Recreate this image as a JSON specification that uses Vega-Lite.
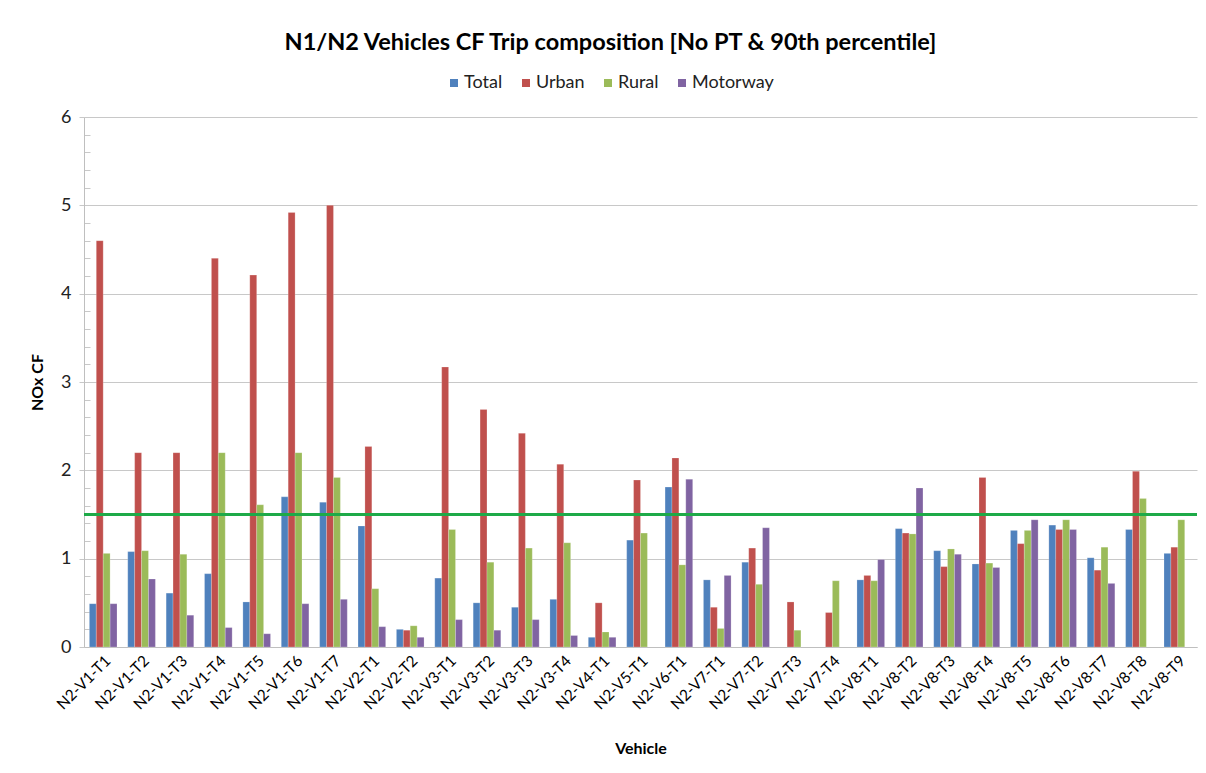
{
  "$schema": "https://vega.github.io/schema/vega-lite/v6.json",
  "width": 1113,
  "height": 530,
  "autosize": {"type": "none"},
  "padding": {"left": 84, "top": 117, "right": 9, "bottom": 126},
  "background": "white",
  "config": {
    "font": "Lato",
    "view": {"stroke": null},
    "axis": {"labelFont": "Lato", "titleFont": "Lato"},
    "legend": {"labelFont": "Lato"}
  },
  "title": {
    "text": "N1/N2 Vehicles CF Trip composition [No PT & 90th percentile]",
    "anchor": "middle",
    "frame": "group",
    "dx": -30,
    "offset": 20,
    "fontSize": 23.5,
    "fontWeight": "bold",
    "font": "Lato",
    "color": "#000000"
  },
  "data": {
    "values": [
      {"Vehicle": "N2-V1-T1", "Series": "Total", "CF": 0.49},
      {"Vehicle": "N2-V1-T1", "Series": "Urban", "CF": 4.60},
      {"Vehicle": "N2-V1-T1", "Series": "Rural", "CF": 1.06},
      {"Vehicle": "N2-V1-T1", "Series": "Motorway", "CF": 0.49},
      {"Vehicle": "N2-V1-T2", "Series": "Total", "CF": 1.08},
      {"Vehicle": "N2-V1-T2", "Series": "Urban", "CF": 2.20},
      {"Vehicle": "N2-V1-T2", "Series": "Rural", "CF": 1.09},
      {"Vehicle": "N2-V1-T2", "Series": "Motorway", "CF": 0.77},
      {"Vehicle": "N2-V1-T3", "Series": "Total", "CF": 0.61},
      {"Vehicle": "N2-V1-T3", "Series": "Urban", "CF": 2.20},
      {"Vehicle": "N2-V1-T3", "Series": "Rural", "CF": 1.05},
      {"Vehicle": "N2-V1-T3", "Series": "Motorway", "CF": 0.36},
      {"Vehicle": "N2-V1-T4", "Series": "Total", "CF": 0.83},
      {"Vehicle": "N2-V1-T4", "Series": "Urban", "CF": 4.40},
      {"Vehicle": "N2-V1-T4", "Series": "Rural", "CF": 2.20},
      {"Vehicle": "N2-V1-T4", "Series": "Motorway", "CF": 0.22},
      {"Vehicle": "N2-V1-T5", "Series": "Total", "CF": 0.51},
      {"Vehicle": "N2-V1-T5", "Series": "Urban", "CF": 4.21},
      {"Vehicle": "N2-V1-T5", "Series": "Rural", "CF": 1.61},
      {"Vehicle": "N2-V1-T5", "Series": "Motorway", "CF": 0.15},
      {"Vehicle": "N2-V1-T6", "Series": "Total", "CF": 1.70},
      {"Vehicle": "N2-V1-T6", "Series": "Urban", "CF": 4.92},
      {"Vehicle": "N2-V1-T6", "Series": "Rural", "CF": 2.20},
      {"Vehicle": "N2-V1-T6", "Series": "Motorway", "CF": 0.49},
      {"Vehicle": "N2-V1-T7", "Series": "Total", "CF": 1.64},
      {"Vehicle": "N2-V1-T7", "Series": "Urban", "CF": 5.00},
      {"Vehicle": "N2-V1-T7", "Series": "Rural", "CF": 1.92},
      {"Vehicle": "N2-V1-T7", "Series": "Motorway", "CF": 0.54},
      {"Vehicle": "N2-V2-T1", "Series": "Total", "CF": 1.37},
      {"Vehicle": "N2-V2-T1", "Series": "Urban", "CF": 2.27},
      {"Vehicle": "N2-V2-T1", "Series": "Rural", "CF": 0.66},
      {"Vehicle": "N2-V2-T1", "Series": "Motorway", "CF": 0.23},
      {"Vehicle": "N2-V2-T2", "Series": "Total", "CF": 0.20},
      {"Vehicle": "N2-V2-T2", "Series": "Urban", "CF": 0.19},
      {"Vehicle": "N2-V2-T2", "Series": "Rural", "CF": 0.24},
      {"Vehicle": "N2-V2-T2", "Series": "Motorway", "CF": 0.11},
      {"Vehicle": "N2-V3-T1", "Series": "Total", "CF": 0.78},
      {"Vehicle": "N2-V3-T1", "Series": "Urban", "CF": 3.17},
      {"Vehicle": "N2-V3-T1", "Series": "Rural", "CF": 1.33},
      {"Vehicle": "N2-V3-T1", "Series": "Motorway", "CF": 0.31},
      {"Vehicle": "N2-V3-T2", "Series": "Total", "CF": 0.50},
      {"Vehicle": "N2-V3-T2", "Series": "Urban", "CF": 2.69},
      {"Vehicle": "N2-V3-T2", "Series": "Rural", "CF": 0.96},
      {"Vehicle": "N2-V3-T2", "Series": "Motorway", "CF": 0.19},
      {"Vehicle": "N2-V3-T3", "Series": "Total", "CF": 0.45},
      {"Vehicle": "N2-V3-T3", "Series": "Urban", "CF": 2.42},
      {"Vehicle": "N2-V3-T3", "Series": "Rural", "CF": 1.12},
      {"Vehicle": "N2-V3-T3", "Series": "Motorway", "CF": 0.31},
      {"Vehicle": "N2-V3-T4", "Series": "Total", "CF": 0.54},
      {"Vehicle": "N2-V3-T4", "Series": "Urban", "CF": 2.07},
      {"Vehicle": "N2-V3-T4", "Series": "Rural", "CF": 1.18},
      {"Vehicle": "N2-V3-T4", "Series": "Motorway", "CF": 0.13},
      {"Vehicle": "N2-V4-T1", "Series": "Total", "CF": 0.11},
      {"Vehicle": "N2-V4-T1", "Series": "Urban", "CF": 0.50},
      {"Vehicle": "N2-V4-T1", "Series": "Rural", "CF": 0.17},
      {"Vehicle": "N2-V4-T1", "Series": "Motorway", "CF": 0.11},
      {"Vehicle": "N2-V5-T1", "Series": "Total", "CF": 1.21},
      {"Vehicle": "N2-V5-T1", "Series": "Urban", "CF": 1.89},
      {"Vehicle": "N2-V5-T1", "Series": "Rural", "CF": 1.29},
      {"Vehicle": "N2-V6-T1", "Series": "Total", "CF": 1.81},
      {"Vehicle": "N2-V6-T1", "Series": "Urban", "CF": 2.14},
      {"Vehicle": "N2-V6-T1", "Series": "Rural", "CF": 0.93},
      {"Vehicle": "N2-V6-T1", "Series": "Motorway", "CF": 1.90},
      {"Vehicle": "N2-V7-T1", "Series": "Total", "CF": 0.76},
      {"Vehicle": "N2-V7-T1", "Series": "Urban", "CF": 0.45},
      {"Vehicle": "N2-V7-T1", "Series": "Rural", "CF": 0.21},
      {"Vehicle": "N2-V7-T1", "Series": "Motorway", "CF": 0.81},
      {"Vehicle": "N2-V7-T2", "Series": "Total", "CF": 0.96},
      {"Vehicle": "N2-V7-T2", "Series": "Urban", "CF": 1.12},
      {"Vehicle": "N2-V7-T2", "Series": "Rural", "CF": 0.71},
      {"Vehicle": "N2-V7-T2", "Series": "Motorway", "CF": 1.35},
      {"Vehicle": "N2-V7-T3", "Series": "Urban", "CF": 0.51},
      {"Vehicle": "N2-V7-T3", "Series": "Rural", "CF": 0.19},
      {"Vehicle": "N2-V7-T4", "Series": "Urban", "CF": 0.39},
      {"Vehicle": "N2-V7-T4", "Series": "Rural", "CF": 0.75},
      {"Vehicle": "N2-V8-T1", "Series": "Total", "CF": 0.76},
      {"Vehicle": "N2-V8-T1", "Series": "Urban", "CF": 0.81},
      {"Vehicle": "N2-V8-T1", "Series": "Rural", "CF": 0.75},
      {"Vehicle": "N2-V8-T1", "Series": "Motorway", "CF": 0.99},
      {"Vehicle": "N2-V8-T2", "Series": "Total", "CF": 1.34},
      {"Vehicle": "N2-V8-T2", "Series": "Urban", "CF": 1.29},
      {"Vehicle": "N2-V8-T2", "Series": "Rural", "CF": 1.28},
      {"Vehicle": "N2-V8-T2", "Series": "Motorway", "CF": 1.80},
      {"Vehicle": "N2-V8-T3", "Series": "Total", "CF": 1.09},
      {"Vehicle": "N2-V8-T3", "Series": "Urban", "CF": 0.91},
      {"Vehicle": "N2-V8-T3", "Series": "Rural", "CF": 1.11},
      {"Vehicle": "N2-V8-T3", "Series": "Motorway", "CF": 1.05},
      {"Vehicle": "N2-V8-T4", "Series": "Total", "CF": 0.94},
      {"Vehicle": "N2-V8-T4", "Series": "Urban", "CF": 1.92},
      {"Vehicle": "N2-V8-T4", "Series": "Rural", "CF": 0.95},
      {"Vehicle": "N2-V8-T4", "Series": "Motorway", "CF": 0.90},
      {"Vehicle": "N2-V8-T5", "Series": "Total", "CF": 1.32},
      {"Vehicle": "N2-V8-T5", "Series": "Urban", "CF": 1.17},
      {"Vehicle": "N2-V8-T5", "Series": "Rural", "CF": 1.32},
      {"Vehicle": "N2-V8-T5", "Series": "Motorway", "CF": 1.44},
      {"Vehicle": "N2-V8-T6", "Series": "Total", "CF": 1.38},
      {"Vehicle": "N2-V8-T6", "Series": "Urban", "CF": 1.33},
      {"Vehicle": "N2-V8-T6", "Series": "Rural", "CF": 1.44},
      {"Vehicle": "N2-V8-T6", "Series": "Motorway", "CF": 1.33},
      {"Vehicle": "N2-V8-T7", "Series": "Total", "CF": 1.01},
      {"Vehicle": "N2-V8-T7", "Series": "Urban", "CF": 0.87},
      {"Vehicle": "N2-V8-T7", "Series": "Rural", "CF": 1.13},
      {"Vehicle": "N2-V8-T7", "Series": "Motorway", "CF": 0.72},
      {"Vehicle": "N2-V8-T8", "Series": "Total", "CF": 1.33},
      {"Vehicle": "N2-V8-T8", "Series": "Urban", "CF": 1.99},
      {"Vehicle": "N2-V8-T8", "Series": "Rural", "CF": 1.68},
      {"Vehicle": "N2-V8-T9", "Series": "Total", "CF": 1.06},
      {"Vehicle": "N2-V8-T9", "Series": "Urban", "CF": 1.13},
      {"Vehicle": "N2-V8-T9", "Series": "Rural", "CF": 1.44}
    ]
  },
  "layer": [
    {
      "mark": {"type": "bar", "stroke": "#ffffff", "strokeOpacity": 0.35, "strokeWidth": 0.6},
      "encoding": {
        "x": {
          "field": "Vehicle",
          "type": "nominal",
          "sort": null,
          "scale": {"paddingInner": 0.28, "paddingOuter": 0.14},
          "axis": {
            "title": "Vehicle",
            "titleFontSize": 16,
            "titleFontWeight": "bold",
            "titleColor": "#000000",
            "titlePadding": 28,
            "labelAngle": -45,
            "labelFontSize": 15.5,
            "labelColor": "#000000",
            "labelPadding": 6,
            "ticks": false,
            "domainColor": "#bfbfbf",
            "domainWidth": 1
          }
        },
        "xOffset": {
          "field": "Series",
          "type": "nominal",
          "sort": ["Total", "Urban", "Rural", "Motorway"],
          "scale": {"domain": ["Total", "Urban", "Rural", "Motorway"], "paddingInner": 0, "paddingOuter": 0}
        },
        "y": {
          "field": "CF",
          "type": "quantitative",
          "scale": {"domain": [0, 6], "nice": false},
          "axis": {
            "title": "NOx CF",
            "titleFontSize": 16,
            "titleFontWeight": "bold",
            "titleColor": "#000000",
            "titlePadding": 15,
            "values": [0, 0.2, 0.4, 0.6, 0.8, 1, 1.2, 1.4, 1.6, 1.8, 2, 2.2, 2.4, 2.6, 2.8, 3, 3.2, 3.4, 3.6, 3.8, 4, 4.2, 4.4, 4.6, 4.8, 5, 5.2, 5.4, 5.6, 5.8, 6],
            "tickCount": 100,
            "labelOverlap": false,
            "labelExpr": "datum.value % 1 === 0 ? format(datum.value, 'd') : ''",
            "labelFontSize": 18,
            "labelColor": "#222222",
            "labelPadding": 8,
            "grid": true,
            "gridColor": "#c8c8c8",
            "gridWidth": 1,
            "gridOpacity": {"condition": {"test": "datum.value % 1 === 0", "value": 1}, "value": 0},
            "tickColor": "#c8c8c8",
            "tickSize": {"condition": {"test": "datum.value % 1 === 0", "value": 5}, "value": -6},
            "domainColor": "#bfbfbf",
            "domainWidth": 1
          }
        },
        "color": {
          "field": "Series",
          "type": "nominal",
          "sort": ["Total", "Urban", "Rural", "Motorway"],
          "scale": {"domain": ["Total", "Urban", "Rural", "Motorway"], "range": ["#4F81BD", "#C0504D", "#9BBB59", "#8064A2"]},
          "legend": {
            "title": null,
            "orient": "none",
            "direction": "horizontal",
            "legendX": 361,
            "legendY": -43,
            "symbolType": "square",
            "symbolSize": 64,
            "symbolStrokeWidth": 0,
            "labelFontSize": 18,
            "labelColor": "#222222",
            "labelOffset": 1,
            "columnPadding": 14,
            "padding": 0
          }
        }
      }
    },
    {
      "mark": {"type": "rule", "color": "#1EAA48", "strokeWidth": 2},
      "encoding": {"y": {"datum": 1.5, "type": "quantitative"}}
    }
  ]
}
